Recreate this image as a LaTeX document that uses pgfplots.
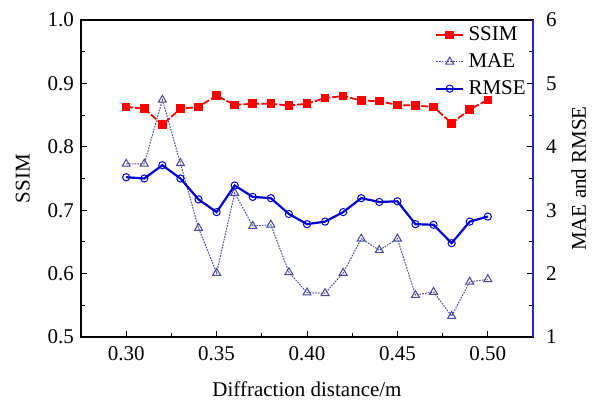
\documentclass[border=0pt]{standalone}
\usepackage{pgfplots}
\pgfplotsset{compat=1.18}
\usepackage{fontspec}
\setmainfont{Liberation Serif}

\definecolor{ssimred}{RGB}{255,0,0}
\definecolor{maeblue}{RGB}{70,70,160}
\definecolor{rmseblue}{RGB}{0,0,210}
\definecolor{axblue}{RGB}{40,40,190}

\pgfplotsset{
  common/.style={
    scale only axis,
    width=226pt, height=158.5pt,
    xmin=0.275, xmax=0.525,
    font=\fontsize{10.5}{12}\selectfont,
    tick label style={font=\fontsize{10.5}{12}\selectfont},
    /pgf/number format/assume math mode=true,
    major tick length=3pt, minor tick length=2pt,
    tick align=inside,
    axis line style={line width=0.6pt},
    tick style={line width=0.5pt, black},
  },
  shortleg/.style={legend image code/.code={
    \draw[mark repeat=2,mark phase=2] plot coordinates {(0cm,0cm) (0.24cm,0cm) (0.48cm,0cm)};}},
}

\begin{document}
\begin{tikzpicture}
% left axis: SSIM
\begin{axis}[common,
    ymin=0.5, ymax=1.0,
    ytick={0.5,0.6,0.7,0.8,0.9,1.0},
    minor y tick num=1,
    xtick={0.30,0.35,0.40,0.45,0.50},
    minor x tick num=1,
    xtick pos=bottom, ytick pos=left,
    xticklabel style={yshift=-1pt, /pgf/number format/.cd, fixed, fixed zerofill, precision=2},
    yticklabel style={/pgf/number format/.cd, fixed, fixed zerofill, precision=1},
    xlabel={Diffraction distance/m},
    xlabel shift=4pt,
    ylabel={SSIM},
    ylabel shift=2pt,
]
\coordinate (sw) at (rel axis cs:0,0);
\addplot[ssimred, line width=0.9pt, dash pattern=on 3.5pt off 1pt,
    mark=square*, mark size=1.7pt, mark options={solid, fill=ssimred}]
  coordinates {
  (0.30,0.863) (0.31,0.860) (0.32,0.835) (0.33,0.860) (0.34,0.863)
  (0.35,0.881) (0.36,0.866) (0.37,0.868) (0.38,0.868) (0.39,0.865)
  (0.40,0.868) (0.41,0.877) (0.42,0.880) (0.43,0.873) (0.44,0.872)
  (0.45,0.866) (0.46,0.865) (0.47,0.863) (0.48,0.837) (0.49,0.859)
  (0.50,0.874)};
\end{axis}

% right axis: MAE and RMSE
\begin{axis}[common,
    ymin=1, ymax=6,
    ytick={1,2,3,4,5,6},
    minor y tick num=1,
    axis x line=none,
    axis y line*=right,
    y axis line style={axblue, line width=0.6pt},
    tick align=inside,
    yticklabel style={xshift=3pt},
    ylabel={MAE and RMSE},
    ylabel shift=0.5pt,
    legend style={at={(rel axis cs:0.998,1.0)}, anchor=north east,
      draw=none, fill=none, inner sep=1pt, row sep=1pt,
      font=\fontsize{10.5}{12}\selectfont},
    legend cell align=left,
]
\addlegendimage{ssimred, line width=0.9pt, mark=square*, mark size=1.7pt,
    mark options={solid, fill=ssimred}, shortleg}
\addlegendentry{SSIM}
\addplot[maeblue, line width=0.5pt, dash pattern=on 0.8pt off 0.6pt,
    mark=triangle, mark size=2.3pt, mark options={solid, fill=white}, shortleg]
  coordinates {
  (0.30,3.73) (0.31,3.73) (0.32,4.74) (0.33,3.74) (0.34,2.72)
  (0.35,2.01) (0.36,3.27) (0.37,2.75) (0.38,2.77) (0.39,2.02)
  (0.40,1.70) (0.41,1.69) (0.42,2.01) (0.43,2.55) (0.44,2.37)
  (0.45,2.55) (0.46,1.66) (0.47,1.71) (0.48,1.33) (0.49,1.87)
  (0.50,1.91)};
\addlegendentry{MAE}
\addplot[rmseblue, line width=1.1pt,
    mark=o, mark size=1.8pt, mark options={solid, fill=white, line width=0.5pt}, shortleg]
  coordinates {
  (0.30,3.52) (0.31,3.50) (0.32,3.71) (0.33,3.50) (0.34,3.17)
  (0.35,2.97) (0.36,3.39) (0.37,3.21) (0.38,3.19) (0.39,2.94)
  (0.40,2.78) (0.41,2.82) (0.42,2.97) (0.43,3.19) (0.44,3.13)
  (0.45,3.14) (0.46,2.78) (0.47,2.77) (0.48,2.48) (0.49,2.82)
  (0.50,2.90)};
\addlegendentry{RMSE}
\end{axis}
\pgfresetboundingbox
\path ([shift={(-40.5pt,-32.5pt)}]sw) rectangle ([shift={(256pt,168.5pt)}]sw);
\end{tikzpicture}
\end{document}
